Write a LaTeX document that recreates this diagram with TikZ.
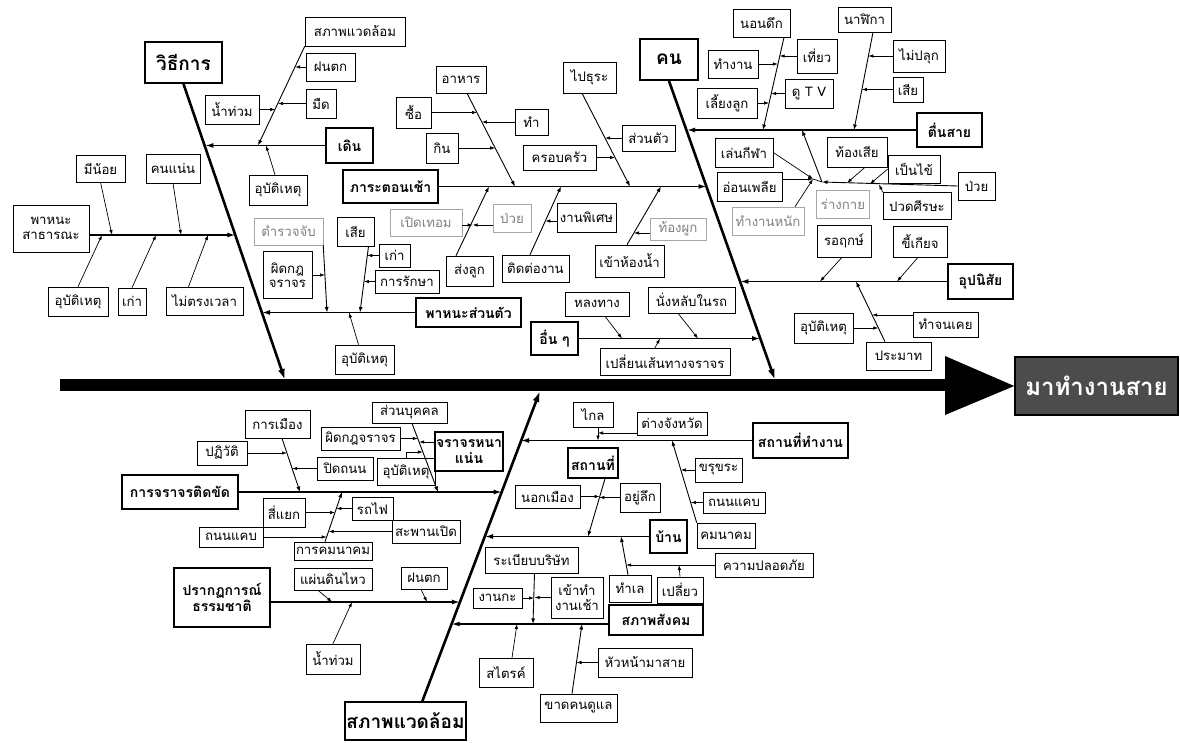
\documentclass[tikz,border=0pt]{standalone}
\usepackage{fontspec}
\setmainfont[Script=Thai]{Loma}
\usetikzlibrary{arrows.meta}
\newcommand\lfs{\fontsize{13.2}{14.5}\selectfont}
\newcommand\cfs{\fontsize{14}{15.5}\selectfont\bfseries}
\newcommand\bfsz{\fontsize{19}{21}\selectfont\bfseries}
\newcommand\efs{\fontsize{24}{26}\selectfont\bfseries}
\tikzset{
  sz/.style 2 args={minimum width=#1pt,minimum height=#2pt},
  leaf/.style={draw,line width=0.6pt,font=\lfs,inner sep=1pt,align=center},
  mid/.style={draw,line width=1pt,font=\lfs,inner sep=1pt,align=center},
  faint/.style={draw=black!35,line width=0.5pt,text=black!50,font=\lfs,inner sep=1pt,align=center},
  cat/.style={draw,line width=1.4pt,font=\cfs,inner sep=1pt,align=center},
  bonebox/.style={draw,line width=2pt,font=\bfsz,inner sep=1pt,align=center},
  effect/.style={draw,line width=1.5pt,fill=black!70,text=white,font=\efs,inner sep=0pt},
  twig/.style={line width=0.7pt,-{Latex[length=5pt,width=3.5pt]}},
  stem/.style={line width=0.9pt,-{Latex[length=5.5pt,width=4pt]}},
  limb/.style={line width=1.4pt,-{Latex[length=8pt,width=5pt]}},
  bone/.style={line width=2.6pt,-{Latex[length=11pt,width=7pt]}},
  plain/.style={line width=0.7pt}
}
\begin{document}
\begin{tikzpicture}[x=1pt,y=-1pt]
\useasboundingbox (0,0) rectangle (1180,743);
\fill[white] (0,0) rectangle (1180,743);

% ---------------- spine and effect
\coordinate (spL) at (60,385);
\coordinate (spR) at (948,385);
\draw[line width=12pt] (spL) -- (spR);
\node[effect,sz={163}{58}] (eff) at (1096.5,386) {มาทำงานสาย};
\fill (945,356) -- (eff.west) -- (945,415) -- cycle;

% ---------------- main bone boxes
\node[bonebox,sz={77}{41}] (vthi) at (183.5,62.5) {วิธีการ};
\node[bonebox,sz={58}{41}] (kon) at (669,59.5) {คน};
\node[bonebox,sz={111}{38}] (swb) at (405.5,721) {สภาพแวดล้อม};

\coordinate (vB) at (285,380);
\coordinate (kB) at (775,380);
\coordinate (sA) at (422,702);
\coordinate (sB) at (540,391);
\draw[bone] (vthi.south) -- (vB);
\draw[bone] (kon.south) -- (kB);
\draw[bone] (sA) -- (sB);

% ================= วิธีการ =================
\node[leaf,sz={76}{47}] (pt) at (51,228.5) {พาหนะ\\สาธารณะ};
\node[leaf,sz={49}{27}] (mn) at (100.5,168.5) {มีน้อย};
\node[leaf,sz={54}{29}] (kn) at (173,168.5) {คนแน่น};
\node[leaf,sz={60}{29}] (ub1) at (78,301.5) {อุบัติเหตุ};
\node[leaf,sz={28}{27}] (ko1) at (132,301.5) {เก่า};
\node[leaf,sz={77}{28}] (mt) at (204.5,301) {ไม่ตรงเวลา};
\coordinate (jpt) at (235.4,235);
\draw[limb] (pt.east |- jpt) -- (jpt);
\coordinate (jmn) at (112,235);
\coordinate (jkn) at (181,235);
\coordinate (jub1) at (102,235);
\coordinate (jko1) at (156,235);
\coordinate (jmt) at (208,235);
\draw[twig] (mn.south) -- (jmn);
\draw[twig] (kn.south) -- (jkn);
\draw[twig] (ub1.north) -- (jub1);
\draw[twig] (ko1.north) -- (jko1);
\draw[twig] ([xshift=-16pt]mt.north) -- (jmt);

\node[cat,sz={47}{35}] (dn) at (349.5,145.5) {เดิน};
\node[leaf,sz={100}{29}] (sw) at (355,31.5) {สภาพแวดล้อม};
\node[leaf,sz={49}{28}] (ft1) at (330.5,67) {ฝนตก};
\node[leaf,sz={30}{29}] (md) at (321,103.5) {มืด};
\node[leaf,sz={54}{29}] (nt1) at (232,109.5) {น้ำท่วม};
\node[leaf,sz={58}{30}] (ub2) at (278,190) {อุบัติเหตุ};
\coordinate (jdn) at (205.4,145.5);
\draw[limb] (dn.west) -- (jdn);
\coordinate (jsw) at (258,145.5);
\draw[stem] (sw.south west) -- (jsw);
\coordinate (jft1) at (295.1,67);
\coordinate (jmd) at (278,103.5);
\coordinate (jnt1) at (275.2,109.5);
\coordinate (jub2) at (266,145.5);
\draw[twig] (ft1.west) -- (jft1);
\draw[twig] (md.west) -- (jmd);
\draw[twig] (nt1.east) -- (jnt1);
\draw[twig] ([xshift=-3pt]ub2.north) -- (jub2);

\node[cat,sz={105}{29}] (ps) at (468.5,312.5) {พาหนะส่วนตัว};
\node[faint,sz={69}{27}] (tr) at (288.5,231.5) {ตำรวจจับ};
\node[mid,sz={49}{46}] (pk) at (287.5,275) {ผิดกฎ\\จราจร};
\node[leaf,sz={37}{29}] (sia) at (355.5,231.5) {เสีย};
\node[leaf,sz={31}{23}] (ko2) at (394.5,255.5) {เก่า};
\node[leaf,sz={64}{23}] (rk) at (407,281.5) {การรักษา};
\node[leaf,sz={59}{29}] (ub3) at (364.5,359.5) {อุบัติเหตุ};
\coordinate (jps) at (262,312.5);
\draw[limb] (ps.west) -- (jps);
\coordinate (jtr) at (327,312.5);
\draw[stem] (tr.south east) -- (jtr);
\coordinate (jpk) at (325,275);
\draw[twig] (pk.east) -- (jpk);
\coordinate (jsia) at (360,312.5);
\draw[stem] ([xshift=13pt]sia.south) -- (jsia);
\coordinate (jko2) at (367.3,255.5);
\coordinate (jrk) at (363.9,281.5);
\coordinate (jub3) at (349,312.5);
\draw[twig] (ko2.west) -- (jko2);
\draw[twig] (rk.west) -- (jrk);
\draw[twig] ([xshift=-6pt]ub3.north) -- (jub3);

% ================= คน =================
\node[cat,sz={95}{33}] (pr) at (390.5,186.5) {ภาระตอนเช้า};
\node[leaf,sz={50}{27}] (ah) at (461,79.5) {อาหาร};
\node[leaf,sz={35}{31}] (su) at (413.5,112.5) {ซื้อ};
\node[leaf,sz={33}{26}] (tam) at (531.5,122) {ทำ};
\node[leaf,sz={32}{30}] (kin) at (442,148) {กิน};
\node[leaf,sz={53}{31}] (pt2) at (589.5,77.5) {ไปธุระ};
\node[leaf,sz={53}{26}] (st) at (648.5,138) {ส่วนตัว};
\node[leaf,sz={73}{25}] (kk) at (559.5,157.5) {ครอบครัว};
\node[leaf,sz={47}{30}] (sl) at (469.5,271) {ส่งลูก};
\node[faint,sz={38}{28}] (py1) at (512,218) {ป่วย};
\node[faint,sz={72}{27}] (pt3) at (426,222.5) {เปิดเทอม};
\node[leaf,sz={67}{27}] (td) at (535.5,268.5) {ติดต่องาน};
\node[leaf,sz={59}{29}] (ngp) at (586.5,217.5) {งานพิเศษ};
\node[leaf,sz={69}{32}] (kh) at (629.5,261) {เข้าห้องน้ำ};
\node[faint,sz={56}{22}] (tc) at (678,229) {ท้องผูก};
\coordinate (jpr) at (706.5,186.5);
\draw[limb] (pr.east) -- (jpr);
\coordinate (jah) at (515,186.5);
\draw[stem] ([xshift=6pt]ah.south) -- (jah);
\coordinate (jsu) at (477,112.5);
\coordinate (jtam) at (481.9,122);
\coordinate (jkin) at (495.2,148);
\draw[twig] (su.east) -- (jsu);
\draw[twig] (tam.west) -- (jtam);
\draw[twig] (kin.east) -- (jkin);
\coordinate (jpt2) at (630,186.5);
\draw[stem] ([xshift=-7.5pt]pt2.south) -- (jpt2);
\coordinate (jst) at (605.1,138);
\coordinate (jkk) at (615.1,157.5);
\draw[twig] (st.west) -- (jst);
\draw[twig] (kk.east) -- (jkk);
\coordinate (jsl) at (489,186.5);
\draw[stem] ([xshift=-13.5pt]sl.north) -- (jsl);
\coordinate (jc1) at (472.6,225);
\draw[twig] (py1.west |- jc1) -- (jc1);
\draw[twig] (pt3.east |- jc1) -- (jc1);
\coordinate (jtd) at (561,186.5);
\draw[stem] ([xshift=-5.5pt]td.north) -- (jtd);
\coordinate (jd1) at (545.4,221);
\draw[twig] (ngp.west |- jd1) -- (jd1);
\coordinate (jkh) at (661,186.5);
\draw[stem] ([xshift=-2.5pt]kh.north) -- (jkh);
\coordinate (je1) at (634,233);
\draw[twig] (tc.west |- je1) -- (je1);

\node[cat,sz={65}{34}] (ts) at (949.5,130) {ตื่นสาย};
\node[leaf,sz={57}{28}] (nd) at (761.5,23) {นอนดึก};
\node[leaf,sz={40}{34}] (ty) at (817,56) {เที่ยว};
\node[leaf,sz={50}{28}] (tn) at (733,64) {ทำงาน};
\node[leaf,sz={48}{29}] (tv) at (809,93.5) {ดู T V};
\node[leaf,sz={60}{30}] (ll) at (727,103) {เลี้ยงลูก};
\node[leaf,sz={53}{25}] (nk) at (864.5,19.5) {นาฬิกา};
\node[leaf,sz={52}{32}] (mp) at (919,56) {ไม่ปลุก};
\node[leaf,sz={30}{25}] (sia2) at (908,89.5) {เสีย};
\coordinate (jts) at (687,130);
\draw[limb] (ts.west) -- (jts);
\coordinate (jnd) at (763,130);
\draw[stem] ([xshift=22.5pt]nd.south) -- (jnd);
\coordinate (jty) at (779.7,56);
\coordinate (jtn) at (777.9,64);
\coordinate (jtv) at (771.2,93.5);
\coordinate (jll) at (769.1,103);
\draw[twig] (ty.west) -- (jty);
\draw[twig] (tn.east) -- (jtn);
\draw[twig] (tv.west) -- (jtv);
\draw[twig] (ll.east) -- (jll);
\coordinate (jnk) at (854,130);
\draw[stem] ([xshift=8.5pt]nk.south) -- (jnk);
\coordinate (jmp) at (868.3,56);
\coordinate (jsia2) at (861.8,89.5);
\draw[twig] (mp.west) -- (jmp);
\draw[twig] (sia2.west) -- (jsia2);

% health cluster
\node[leaf,sz={58}{29}] (lk) at (744,152.5) {เล่นกีฬา};
\node[leaf,sz={65}{29}] (op) at (749.5,186.5) {อ่อนเพลีย};
\node[leaf,sz={60}{30}] (tos) at (857,152) {ท้องเสีย};
\node[leaf,sz={52}{28}] (pk2) at (914,169) {เป็นไข้};
\node[leaf,sz={37}{28}] (py2) at (976.5,186) {ป่วย};
\node[faint,sz={53}{28}] (rk2) at (843,204) {ร่างกาย};
\node[leaf,sz={68}{27}] (pw) at (917,206) {ปวดศีรษะ};
\node[faint,sz={72}{28}] (tnh) at (768,221) {ทำงานหนัก};
\coordinate (jq) at (822,182);
\coordinate (jts2) at (802,130);
\coordinate (jop) at (813,179);
\draw[stem] (jq) -- (jts2);
\draw[stem] (py2.west) -- (jq);
\draw[plain] (jop) -- (jq);
\coordinate (jtos) at (847,183);
\coordinate (jpk2) at (870,184);
\coordinate (jpw) at (879,184.5);
\draw[twig] ([xshift=8pt]tos.south) -- (jtos);
\draw[twig] (pk2.west) -- (jpk2);
\draw[twig] (pw.north west) -- (jpw);
\draw[twig] (lk.east) -- (jop);
\draw[twig] (op.east |- jop) -- (jop);
\draw[twig] ([xshift=27pt]tnh.north) -- (jop);

\node[cat,sz={65}{35}] (un) at (980.5,281.5) {อุปนิสัย};
\node[leaf,sz={54}{32}] (rr) at (844,241) {รอฤกษ์};
\node[leaf,sz={54}{31}] (kg) at (920,241.5) {ขี้เกียจ};
\node[leaf,sz={65}{28}] (pm) at (898.5,356) {ประมาท};
\node[leaf,sz={65}{25}] (tk) at (945.5,324.5) {ทำจนเคย};
\node[leaf,sz={59}{30}] (ub4) at (823.5,328) {อุบัติเหตุ};
\coordinate (jun) at (740.4,281.5);
\draw[limb] (un.west) -- (jun);
\coordinate (jrr) at (820,281.5);
\coordinate (jkg) at (897,281.5);
\draw[twig] ([xshift=-2pt]rr.south) -- (jrr);
\draw[twig] ([xshift=-2pt]kg.south) -- (jkg);
\coordinate (jpm) at (856,281.5);
\draw[stem] ([xshift=-13.5pt]pm.north) -- (jpm);
\coordinate (jh1) at (872.1,315);
\coordinate (jub4) at (878.3,328);
\draw[twig] (tk.west |- jh1) -- (jh1);
\draw[twig] (ub4.east) -- (jub4);

\node[cat,sz={47}{33}] (etc) at (554.5,338.5) {อื่น ๆ};
\node[leaf,sz={64}{24}] (lt) at (597,304) {หลงทาง};
\node[leaf,sz={87}{26}] (nl) at (691.5,300) {นั่งหลับในรถ};
\node[leaf,sz={130}{27}] (pl) at (665,361.5) {เปลี่ยนเส้นทางจราจร};
\coordinate (jetc) at (760.2,338.5);
\draw[limb] (etc.east) -- (jetc);
\coordinate (jlt) at (622,338.5);
\coordinate (jnl) at (698,338.5);
\coordinate (jpl) at (660,338.5);
\draw[twig] ([xshift=8pt]lt.south) -- (jlt);
\draw[twig] ([xshift=-13.5pt]nl.south) -- (jnl);
\draw[twig] ([xshift=-10pt]pl.north) -- (jpl);

% ================= สภาพแวดล้อม =================
\node[cat,sz={116}{34}] (jt) at (180,492) {การจราจรติดขัด};
\node[leaf,sz={65}{28}] (km) at (277.5,424) {การเมือง};
\node[mid,sz={50}{24}] (pv) at (222,453) {ปฏิวัติ};
\node[mid,sz={56}{23}] (pd) at (345,468.5) {ปิดถนน};
\node[leaf,sz={75}{21}] (sb) at (409.5,412.5) {ส่วนบุคคล};
\node[mid,sz={79}{23}] (pkj) at (360.5,438.5) {ผิดกฎจราจร};
\node[cat,sz={68}{39}] (jn) at (469,451.5) {จราจรหนา\\แน่น};
\node[mid,sz={58}{27}] (ub5) at (406,471.5) {อุบัติเหตุ};
\node[leaf,sz={42}{29}] (sy) at (284,512.5) {สี่แยก};
\node[leaf,sz={41}{23}] (rf) at (372.5,508.5) {รถไฟ};
\node[leaf,sz={64}{20}] (tnk) at (231,537) {ถนนแคบ};
\node[leaf,sz={68}{23}] (sp) at (426,531.5) {สะพานเปิด};
\node[leaf,sz={78}{18}] (kmk) at (333,551) {การคมนาคม};
\coordinate (jjt) at (501.7,492);
\draw[limb] (jt.east) -- (jjt);
\coordinate (jkm) at (300,492);
\draw[stem] ([xshift=4.5pt]km.south) -- (jkm);
\coordinate (jpv) at (287,453);
\coordinate (jpd) at (292.2,468.5);
\draw[twig] (pv.east) -- (jpv);
\draw[twig] (pd.west) -- (jpd);
\coordinate (jsb) at (438,492);
\draw[stem] ([xshift=2.5pt]sb.south) -- (jsb);
\coordinate (jpkj) at (417.8,438.5);
\coordinate (jj2) at (419.2,442);
\coordinate (jj3) at (422.9,452);
\draw[twig] (pkj.east) -- (jpkj);
\draw[twig] (jn.west |- jj2) -- (jj2);
\draw[twig] (ub5.north) |- (jj3);
\coordinate (jkmk) at (342,492);
\draw[stem] ([xshift=-8pt]kmk.north) -- (jkmk);
\coordinate (jsy) at (335,512.5);
\coordinate (jrf) at (336.4,508.5);
\coordinate (jtnk) at (326.7,537);
\coordinate (jsp) at (328.6,531.5);
\draw[twig] (sy.east) -- (jsy);
\draw[twig] (rf.west) -- (jrf);
\draw[twig] (tnk.east) -- (jtnk);
\draw[twig] (sp.west) -- (jsp);

\node[cat,sz={96}{59}] (pg) at (222,597.5) {ปรากฏการณ์\\ธรรมชาติ};
\node[leaf,sz={78}{22}] (pdw) at (333,579) {แผ่นดินไหว};
\node[leaf,sz={46}{22}] (ft2) at (424,578) {ฝนตก};
\node[leaf,sz={54}{30}] (nt2) at (333,659) {น้ำท่วม};
\coordinate (jpg) at (459.9,602);
\draw[limb] (pg.east |- jpg) -- (jpg);
\coordinate (jpdw) at (332,602);
\coordinate (jft2) at (427,602);
\coordinate (jnt2) at (352,602);
\draw[twig] ([xshift=-15pt]pdw.south) -- (jpdw);
\draw[twig] ([xshift=-3pt]ft2.south) -- (jft2);
\draw[twig] (nt2.north) -- (jnt2);

\node[cat,sz={95}{35}] (stn) at (800.5,440.5) {สถานที่ทำงาน};
\node[leaf,sz={40}{25}] (kl) at (593,414.5) {ไกล};
\node[leaf,sz={70}{23}] (tj) at (672,423.5) {ต่างจังหวัด};
\node[mid,sz={47}{24}] (kr) at (718.5,470) {ขรุขระ};
\node[leaf,sz={62}{21}] (tnk2) at (734,502.5) {ถนนแคบ};
\node[leaf,sz={58}{25}] (kmk2) at (726,535.5) {คมนาคม};
\coordinate (jstn) at (521,440.5);
\draw[limb] (stn.west) -- (jstn);
\coordinate (jkl) at (598,433);
\coordinate (jkl2) at (598,440.5);
\draw[twig] (tj.west |- jkl) -- (jkl);
\draw[twig] (kl.south -| jkl) -- (jkl2);
\coordinate (jkmk2) at (672,440.5);
\draw[stem] (kmk2.north west) -- (jkmk2);
\coordinate (jkr) at (680.9,470);
\coordinate (jtnk2) at (690.8,502.5);
\draw[twig] (kr.west) -- (jkr);
\draw[twig] (tnk2.west) -- (jtnk2);

\node[cat,sz={50}{30}] (stt) at (593,463) {สถานที่};
\node[leaf,sz={40}{29}] (yl) at (640,497.5) {อยู่ลึก};
\node[leaf,sz={65}{23}] (nm) at (547.5,496.5) {นอกเมือง};
\node[cat,sz={37}{33}] (bn) at (668.5,536.5) {บ้าน};
\node[leaf,sz={98}{24}] (kp) at (764,565) {ความปลอดภัย};
\node[leaf,sz={42}{27}] (tl) at (630,588.5) {ทำเล};
\node[leaf,sz={46}{26}] (pli) at (680,590) {เปลี่ยว};
\coordinate (jbn) at (485,536.5);
\draw[limb] (bn.west) -- (jbn);
\coordinate (jstt) at (588,536.5);
\draw[stem] ([xshift=12pt]stt.south) -- (jstt);
\coordinate (jnm) at (599.6,496.5);
\coordinate (jyl) at (599.3,497.5);
\draw[twig] (nm.east) -- (jnm);
\draw[twig] (yl.west) -- (jyl);
\coordinate (jtl) at (621,536.5);
\draw[stem] ([xshift=-2pt]tl.north) -- (jtl);
\coordinate (jkp) at (626.2,565);
\coordinate (jpli) at (679,565);
\draw[twig] (kp.west) -- (jkp);
\draw[twig] (pli.north) -- (jpli);

\node[cat,sz={94}{30}] (ss) at (656,620) {สภาพสังคม};
\node[leaf,sz={93}{26}] (rb) at (531.5,560) {ระเบียบบริษัท};
\node[leaf,sz={49}{20}] (ngk) at (497.5,598) {งานกะ};
\node[leaf,sz={52}{41}] (ktc) at (577,597.5) {เข้าทำ\\งานเช้า};
\node[leaf,sz={54}{29}] (sk) at (506,672.5) {สไตรค์};
\node[leaf,sz={77}{28}] (kd) at (578.5,708) {ขาดคนดูแล};
\node[leaf,sz={94}{29}] (hn) at (645,662.5) {หัวหน้ามาสาย};
\coordinate (jss) at (451.6,624);
\draw[limb] (ss.west |- jss) -- (jss);
\coordinate (jrb) at (533,624);
\draw[stem] ([xshift=3pt]rb.south) -- (jrb);
\coordinate (jngk) at (534,598);
\coordinate (jktc) at (534.5,597.5);
\draw[twig] (ngk.east) -- (jngk);
\draw[twig] (ktc.west) -- (jktc);
\coordinate (jsk) at (517,624);
\draw[twig] ([xshift=6pt]sk.north) -- (jsk);
\coordinate (jkd) at (582,624);
\draw[stem] ([xshift=-6.5pt]kd.north) -- (jkd);
\coordinate (jhn) at (576.5,662.5);
\draw[twig] (hn.west) -- (jhn);
\end{tikzpicture}
\end{document}
